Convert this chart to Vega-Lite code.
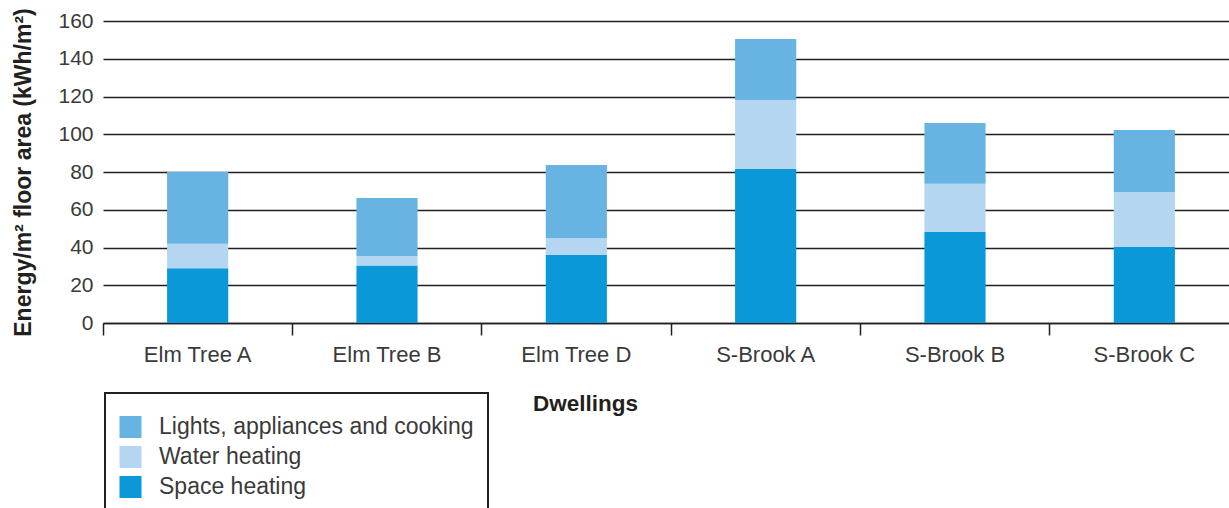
{
  "$schema": "https://vega.github.io/schema/vega-lite/v6.json",
  "width": 1122,
  "height": 302,
  "autosize": "none",
  "padding": {"left": 107, "top": 21, "right": 0, "bottom": 185},
  "background": "white",
  "config": {
    "view": {"stroke": null},
    "font": "Liberation Sans",
    "legend": {"strokeColor": "#231f20", "strokeWidth": 2, "fillColor": "white"}
  },
  "data": {
    "values": [
      {"dwelling": "Elm Tree A", "use": "Space heating", "value": 29, "ord": 1},
      {"dwelling": "Elm Tree A", "use": "Water heating", "value": 13, "ord": 2},
      {"dwelling": "Elm Tree A", "use": "Lights, appliances and cooking", "value": 38, "ord": 3},
      {"dwelling": "Elm Tree B", "use": "Space heating", "value": 30.5, "ord": 1},
      {"dwelling": "Elm Tree B", "use": "Water heating", "value": 5, "ord": 2},
      {"dwelling": "Elm Tree B", "use": "Lights, appliances and cooking", "value": 30.7, "ord": 3},
      {"dwelling": "Elm Tree D", "use": "Space heating", "value": 36, "ord": 1},
      {"dwelling": "Elm Tree D", "use": "Water heating", "value": 9, "ord": 2},
      {"dwelling": "Elm Tree D", "use": "Lights, appliances and cooking", "value": 38.7, "ord": 3},
      {"dwelling": "S-Brook A", "use": "Space heating", "value": 81.6, "ord": 1},
      {"dwelling": "S-Brook A", "use": "Water heating", "value": 36.6, "ord": 2},
      {"dwelling": "S-Brook A", "use": "Lights, appliances and cooking", "value": 32.3, "ord": 3},
      {"dwelling": "S-Brook B", "use": "Space heating", "value": 48.2, "ord": 1},
      {"dwelling": "S-Brook B", "use": "Water heating", "value": 25.6, "ord": 2},
      {"dwelling": "S-Brook B", "use": "Lights, appliances and cooking", "value": 32.2, "ord": 3},
      {"dwelling": "S-Brook C", "use": "Space heating", "value": 40.3, "ord": 1},
      {"dwelling": "S-Brook C", "use": "Water heating", "value": 29.1, "ord": 2},
      {"dwelling": "S-Brook C", "use": "Lights, appliances and cooking", "value": 32.9, "ord": 3}
    ]
  },
  "mark": {"type": "bar", "width": {"band": 0.323}},
  "encoding": {
    "x": {
      "field": "dwelling",
      "type": "nominal",
      "sort": null,
      "scale": {"paddingInner": 0, "paddingOuter": 0, "range": [-4, 1132]},
      "axis": {
        "title": "Dwellings",
        "titleFontSize": 22.5,
        "titleFontWeight": "bold",
        "titleColor": "#231f20",
        "titleX": 478,
        "titleY": 80,
        "titleBaseline": "middle",
        "titleAlign": "center",
        "labelAngle": 0,
        "labelFontSize": 22,
        "labelColor": "#3a3a3a",
        "labelPadding": 9,
        "tickSize": 12,
        "tickColor": "#231f20",
        "tickWidth": 1.5,
        "bandPosition": 0,
        "domainColor": "#231f20",
        "domainWidth": 1.5,
        "grid": false
      }
    },
    "y": {
      "field": "value",
      "type": "quantitative",
      "stack": "zero",
      "scale": {"domain": [0, 160], "nice": false},
      "axis": {
        "title": "Energy/m² floor area (kWh/m²)",
        "titleFontSize": 23,
        "titleFontWeight": "bold",
        "titleColor": "#231f20",
        "titlePadding": 22,
        "values": [0, 20, 40, 60, 80, 100, 120, 140, 160],
        "labelFontSize": 21,
        "labelColor": "#3a3a3a",
        "labelPadding": 14,
        "tickSize": 0,
        "domain": false,
        "grid": true,
        "gridColor": "#231f20",
        "gridWidth": 1.5
      }
    },
    "color": {
      "field": "use",
      "type": "nominal",
      "scale": {
        "domain": ["Lights, appliances and cooking", "Water heating", "Space heating"],
        "range": ["#67b3e1", "#b5d6f0", "#0b98d8"]
      },
      "legend": {
        "title": " ",
        "titleFontSize": 1,
        "titlePadding": 7.5,
        "orient": "none",
        "legendX": -2,
        "legendY": 372,
        "padding": 14,
        "rowPadding": 6,
        "symbolType": "square",
        "symbolSize": 484,
        "symbolStrokeWidth": 0,
        "symbolOpacity": 1,
        "labelFontSize": 23,
        "labelColor": "#3a3a3a",
        "labelOffset": 17,
        "labelLimit": 400
      }
    },
    "order": {"field": "ord", "type": "quantitative"}
  }
}
